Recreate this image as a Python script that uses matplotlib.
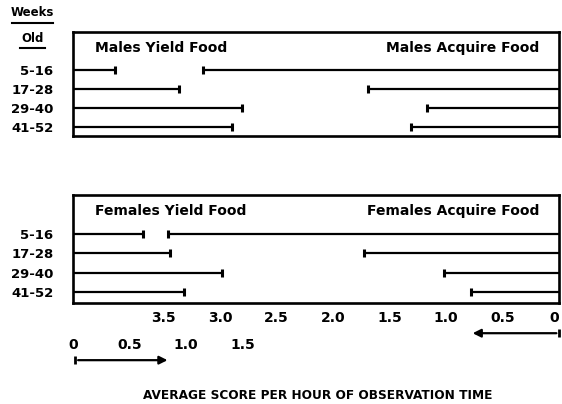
import matplotlib.pyplot as plt
from matplotlib.lines import Line2D

# data (scores per hour)
weeks = ["5-16", "17-28", "29-40", "41-52"]
male_yield = [0.37, 0.94, 1.49, 1.41]
male_acquire = [3.15, 1.69, 1.17, 1.31]
female_yield = [0.62, 0.86, 1.32, 0.98]
female_acquire = [3.46, 1.73, 1.02, 0.78]
acquire_ticks = [3.5, 3.0, 2.5, 2.0, 1.5, 1.0, 0.5, 0]
yield_ticks = [0, 0.5, 1.0, 1.5]

W = 4.3  # full width of the box in score units
plt.rcParams['font.family'] = 'DejaVu Sans'
plt.rcParams['font.weight'] = 'bold'

fig = plt.figure(figsize=(5.62, 4.04), dpi=100)
ax1 = fig.add_axes([0.130, 0.663, 0.865, 0.257])
ax2 = fig.add_axes([0.130, 0.250, 0.865, 0.267])

def panel(ax, yld, acq, left_title, right_title, bottom_pad):
    rows = list(range(len(weeks)))
    for r, v in zip(rows, yld):
        ax.plot([0, v], [r, r], color='black', lw=1.6, solid_capstyle='butt')
        ax.plot([v], [r], marker='|', ms=6, mew=2.2, color='black')
    for r, v in zip(rows, acq):
        ax.plot([W - v, W], [r, r], color='black', lw=1.6, solid_capstyle='butt')
        ax.plot([W - v], [r], marker='|', ms=6, mew=2.2, color='black')
    ax.set_xlim(0, W)
    ax.set_ylim(len(weeks) - 1 + bottom_pad, -2.0)
    ax.set_yticks(rows)
    ax.set_yticklabels(weeks, fontsize=9.5, fontweight='bold')
    ax.tick_params(axis='y', length=0, pad=14)
    for s in ax.spines.values():
        s.set_linewidth(1.9)
    ax.text(0.045, 0.85, left_title, transform=ax.transAxes, fontsize=10,
            fontweight='bold', va='center', ha='left')
    ax.text(0.96, 0.85, right_title, transform=ax.transAxes, fontsize=10,
            fontweight='bold', va='center', ha='right')

panel(ax1, male_yield, male_acquire, "Males Yield Food", "Males Acquire Food", 0.47)
panel(ax2, female_yield, female_acquire, "Females Yield Food", "Females Acquire Food", 0.57)
ax1.set_xticks([])

# acquire scale (reversed, from the right edge)
ax2.set_xticks([W - a for a in acquire_ticks])
ax2.set_xticklabels([str(a) if a else "0" for a in acquire_ticks], fontsize=10, fontweight='bold')
ax2.tick_params(axis='x', length=0, pad=6)
ax2.get_xticklabels()[-1].set_ha('right')

# yield scale (from the left edge)
sec = ax2.secondary_xaxis(-0.31, functions=(lambda x: x, lambda x: x))
sec.set_xticks(yield_ticks)
sec.set_xticklabels([str(v) if v else "0" for v in yield_ticks], fontsize=10, fontweight='bold')
sec.tick_params(axis='x', length=0, pad=1)
sec.spines['bottom'].set_visible(False)

# direction arrows
ax2.annotate("", xy=(W - 0.79, -0.28), xytext=(W, -0.28),
             xycoords=('data', 'axes fraction'), textcoords=('data', 'axes fraction'),
             arrowprops=dict(arrowstyle='-|>', lw=1.6, color='black', mutation_scale=12),
             annotation_clip=False)
ax2.plot([W], [-0.28], marker='|', ms=6, mew=2, color='black',
         transform=ax2.get_xaxis_transform(), clip_on=False)
ax2.annotate("", xy=(0.86, -0.53), xytext=(0.02, -0.53),
             xycoords=('data', 'axes fraction'), textcoords=('data', 'axes fraction'),
             arrowprops=dict(arrowstyle='-|>', lw=1.6, color='black', mutation_scale=12),
             annotation_clip=False)
ax2.plot([0.02], [-0.53], marker='|', ms=6, mew=2, color='black',
         transform=ax2.get_xaxis_transform(), clip_on=False)

# "Weeks / Old" header
fig.text(0.058, 0.968, "Weeks", fontsize=8.5, fontweight='bold', ha='center', va='center')
fig.add_artist(Line2D([0.022, 0.094], [0.943, 0.943], color='black', lw=1.5))
fig.text(0.058, 0.905, "Old", fontsize=8.5, fontweight='bold', ha='center', va='center')
fig.add_artist(Line2D([0.036, 0.080], [0.882, 0.882], color='black', lw=1.5))

fig.text(0.566, 0.022, "AVERAGE SCORE PER HOUR OF OBSERVATION TIME", fontsize=8.7,
         fontweight='bold', ha='center', va='center')

fig.savefig("out.png", dpi=100)
